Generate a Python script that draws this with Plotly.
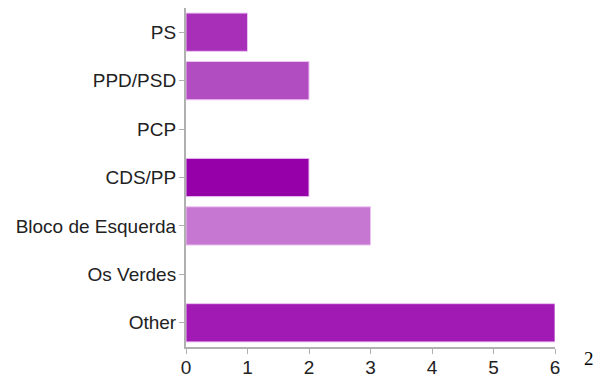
import plotly.graph_objects as go

categories = ["PS", "PPD/PSD", "PCP", "CDS/PP", "Bloco de Esquerda", "Os Verdes", "Other"]
values = [1, 2, 0, 2, 3, 0, 6]
colors = ["#a830b9", "#b24dc1", "#a830b9", "#9500a8", "#c677d1", "#a830b9", "#a01ab3"]
x_ticks = [0, 1, 2, 3, 4, 5, 6]
page_number = "2"

line_colors = ["#ecc4f2" if v > 0 else "rgba(0,0,0,0)" for v in values]

fig = go.Figure(go.Bar(
    y=categories,
    x=values,
    orientation="h",
    marker=dict(color=colors, line=dict(color=line_colors, width=1)),
    width=0.79,
    hoverinfo="skip",
))

fig.update_layout(
    width=596, height=374,
    margin=dict(l=186, r=41, t=8, b=27, autoexpand=False),
    paper_bgcolor="white", plot_bgcolor="white",
    font=dict(family="Liberation Sans, Arial, sans-serif", size=19, color="#222222"),
    showlegend=False,
    xaxis=dict(
        range=[0, 6], tickvals=x_ticks, showgrid=False, zeroline=False,
        showline=True, linecolor="#b0b0b0", linewidth=2,
        ticks="outside", ticklen=5, tickcolor="#b0b0b0", tickwidth=1,
        tickfont=dict(size=19), fixedrange=True, automargin=False,
        ticklabelstandoff=-3,
    ),
    yaxis=dict(
        autorange="reversed", categoryorder="array", categoryarray=categories,
        showgrid=False, zeroline=False,
        showline=True, linecolor="#b0b0b0", linewidth=2,
        ticks="outside", ticklen=5, tickcolor="#b0b0b0", tickwidth=1,
        tickfont=dict(size=19), fixedrange=True, automargin=False,
        ticklabelstandoff=-1,
    ),
    annotations=[dict(
        text=page_number, xref="paper", yref="paper", x=1.0, y=0,
        xshift=41, yshift=1, xanchor="right", yanchor="top", showarrow=False,
        font=dict(family="Liberation Serif, Times New Roman, serif", size=19, color="#000000"),
    )],
)

fig.write_html(
    "out.html",
    config={"displayModeBar": False},
    post_script="document.body.style.margin='0';document.body.style.overflow='hidden';",
)
